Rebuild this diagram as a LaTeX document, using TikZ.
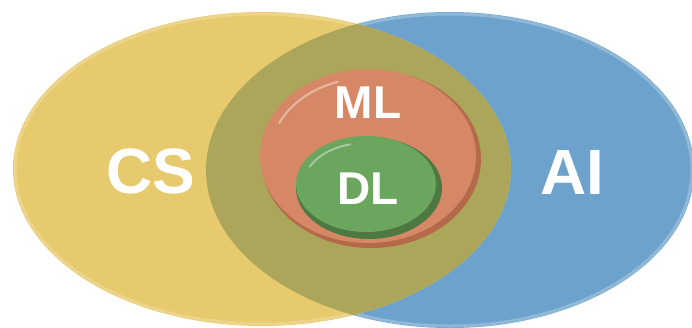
\documentclass[tikz,border=0pt]{standalone}
\usepackage{fontspec}
\setmainfont{Liberation Sans}
\usetikzlibrary{shapes.geometric}
\definecolor{csyellow}{RGB}{232,202,110}
\definecolor{aiblue}{RGB}{108,162,203}
\definecolor{overlap}{RGB}{172,166,90}
\definecolor{mlorange}{RGB}{214,136,102}
\definecolor{mlrim}{RGB}{180,105,75}
\definecolor{dlgreen}{RGB}{106,166,94}
\definecolor{dlrim}{RGB}{78,120,66}
\tikzset{
  setlabel/.style={font=\bfseries\fontsize{64}{64}\selectfont, text=white, anchor=base, inner sep=0pt},
  sublabel/.style={font=\bfseries\fontsize{46}{46}\selectfont, text=white, anchor=base, inner sep=0pt},
  highlight/.style={draw=white, draw opacity=0.4, line width=2pt, line cap=round},
}
\begin{document}
\begin{tikzpicture}[x=1pt,y=-1pt]
\useasboundingbox (0,0) rectangle (692,327);
\fill[white] (0,0) rectangle (692,327);

% AI set
\fill[aiblue] (450,170) ellipse [x radius=244, y radius=158];
\draw[white, opacity=0.25, line width=3pt] (450,170) ellipse [x radius=242, y radius=156];
% CS set
\fill[csyellow] (262,169) ellipse [x radius=249, y radius=157];
\draw[white, opacity=0.2, line width=3pt] (262,169) ellipse [x radius=247, y radius=155];
% intersection of CS and AI
\begin{scope}
  \clip (450,170) ellipse [x radius=244, y radius=158];
  \fill[overlap] (262,169) ellipse [x radius=249, y radius=157];
\end{scope}

% ML set, with a darker rim on the lower right and a glint on the upper left
\fill[mlrim] (371,159) ellipse [x radius=110, y radius=89];
\fill[mlorange] (368,156) ellipse [x radius=108, y radius=87];
\draw[highlight] (368,156) ++(205:98 and 78) arc [start angle=205, end angle=252, x radius=98, y radius=78];

% DL set
\fill[dlrim] (369,188) ellipse [x radius=73, y radius=51];
\fill[dlgreen] (366,184) ellipse [x radius=70, y radius=48];
\draw[highlight] (366,184) ++(205:62 and 41) arc [start angle=205, end angle=255, x radius=62, y radius=41];

% labels
\node[setlabel] (cs) at (151,193) {CS};
\node[setlabel] (ai) at (572,194) {AI};
\node[sublabel] (ml) at (368,118) {ML};
\node[sublabel] (dl) at (368,204) {DL};
\end{tikzpicture}
\end{document}
